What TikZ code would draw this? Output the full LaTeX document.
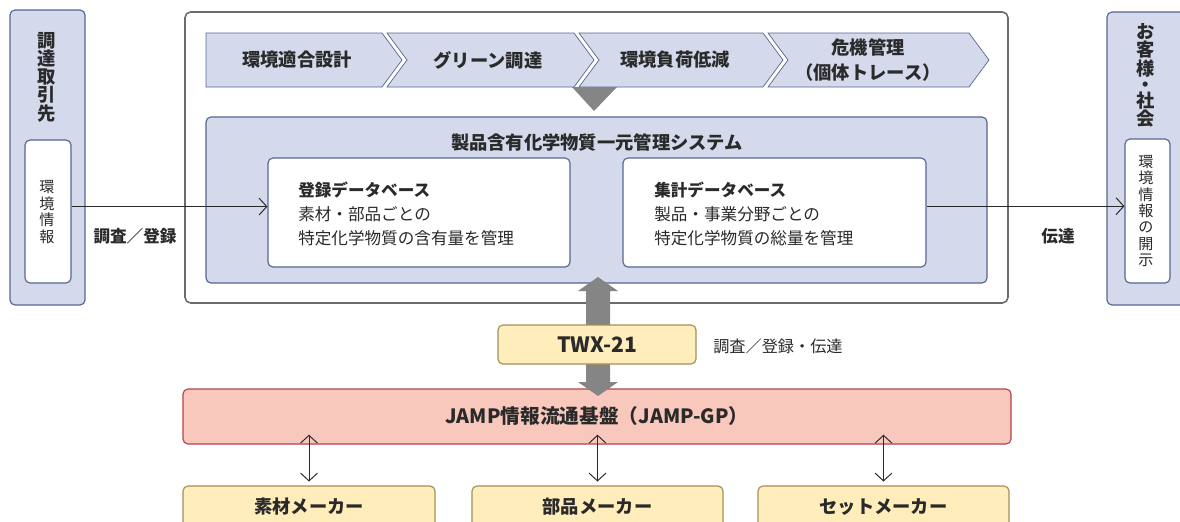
\documentclass[tikz,border=0pt]{standalone}
\usepackage{fontspec}
\setmainfont{Noto Sans CJK JP}
\usetikzlibrary{positioning,arrows.meta}
\definecolor{paleblue}{HTML}{D4DAEC}
\definecolor{edgeblue}{HTML}{56668F}
\definecolor{framegray}{HTML}{6B6B6B}
\definecolor{arrowgray}{HTML}{858585}
\definecolor{paleyellow}{HTML}{FFEDBB}
\definecolor{edgeyellow}{HTML}{A38F55}
\definecolor{palered}{HTML}{F8C8BC}
\definecolor{edgered}{HTML}{B3434F}
\definecolor{inkgray}{HTML}{2A2A2A}
\tikzset{
  boxsize/.style 2 args={minimum width=#1*0.025cm, minimum height=#2*0.025cm, inner sep=0pt},
  bluebox/.style={draw=edgeblue, fill=paleblue, line width=0.8pt, rounded corners=3.5pt},
  whitebox/.style={draw=edgeblue, fill=white, line width=0.8pt, rounded corners=3.5pt},
  framebox/.style={draw=framegray, fill=white, line width=1.1pt, rounded corners=4pt},
  yellowbox/.style={draw=edgeyellow, fill=paleyellow, line width=0.8pt, rounded corners=3.5pt},
  redbox/.style={draw=edgered, fill=palered, line width=0.8pt, rounded corners=3.5pt},
  chevron/.style={draw=edgeblue, fill=paleblue, line width=0.5pt},
  flow/.style={draw=inkgray, line width=0.7pt, -{Straight Barb[length=5.5pt,width=12pt]}},
  twoway/.style={draw=inkgray, line width=0.7pt, {Straight Barb[length=5.5pt,width=12pt]}-{Straight Barb[length=5.5pt,width=12pt]}},
  headtext/.style={font=\fontsize{13}{17.8}\selectfont\bfseries, text=inkgray, align=center},
  bodytext/.style={font=\fontsize{11.8}{17}\selectfont, text=inkgray, align=left, inner sep=0pt},
  vtitle/.style={font=\fontsize{13}{13}\selectfont\bfseries, text=inkgray, align=center, inner sep=0pt},
  vtext/.style={font=\fontsize{10.7}{11.7}\selectfont, text=inkgray, align=center, inner sep=0pt},
  labeltext/.style={font=\fontsize{11.8}{14}\selectfont\bfseries, text=inkgray}
}
\begin{document}
\begin{tikzpicture}[x=0.025cm, y=-0.025cm]
\useasboundingbox (0,0) rectangle (1180,521);

\draw(47.5,157.5) node[bluebox, boxsize={75}{295}] (supplier) {};
\draw(47,77) node[vtitle] (suppliertitle) {調\\達\\取\\引\\先};
\draw(48,211.5) node[whitebox, boxsize={46}{143}] (leftinner) {};
\draw(47,212) node[vtext] (leftinfo) {環\\境\\情\\報};

\draw(1148.5,158.5) node[bluebox, boxsize={83}{293}] (customer) {};
\draw(1146,75.5) node[vtitle] (customertitle) {お\\客\\様\\[-1.5pt]・\\[-1.5pt]社\\会};
\draw(1147.5,211) node[whitebox, boxsize={45}{144}] (rightinner) {};
\draw(1146,211) node[vtext] (rightinfo) {環\\境\\情\\報\\の\\開\\示};

\draw(596.5,157.5) node[framebox, boxsize={823}{291}] (frame) {};
\draw[chevron] (206,33) -- (382,33) -- (402,60) -- (382,87) -- (206,87) -- cycle;
\foreach \l/\r in {387/574, 579/763, 768/969}
  \draw[chevron] (\l,33) -- (\r,33) -- (\r+20,60) -- (\r,87) -- (\l,87) -- (\l+20,60) -- cycle;
\draw(297,60) node[headtext] (step1) {環境適合設計};
\draw(488,60) node[headtext] (step2) {グリーン調達};
\draw(675,60) node[headtext] (step3) {環境負荷低減};
\draw(868,60) node[headtext] (step4) {危機管理\\（個体トレース）};
\fill[arrowgray] (572,87) -- (617,87) -- (594,111) -- cycle;

\draw(596.5,200) node[bluebox, boxsize={781}{166}] (system) {};
\draw(597,142) node[headtext] (systemtitle) {製品含有化学物質一元管理システム};
\draw(419,212.5) node[whitebox, boxsize={302}{109}] (db1) {};
\draw(774.5,212.5) node[whitebox, boxsize={303}{109}] (db2) {};
\draw(298,214) node[bodytext, anchor=west] (db1text) {\textbf{登録データベース}\\素材・部品ごとの\\特定化学物質の含有量を管理};
\draw(654,214) node[bodytext, anchor=west] (db2text) {\textbf{集計データベース}\\製品・事業分野ごとの\\特定化学物質の総量を管理};

\draw[flow] ([yshift=3.5pt]leftinner.east) -- ([yshift=3.5pt]leftinner.east -| db1.west);
\draw[flow] ([yshift=4.5pt]db2.east) -- ([yshift=4.5pt]db2.east -| rightinner.west);
\draw(135,236) node[labeltext] (survey) {調査／登録};
\draw(1058,236) node[labeltext] (notify) {伝達};

\draw(597,416.5) node[redbox, boxsize={828}{55}] (jamp) {};
\fill[arrowgray] (598,277) -- (618,291) -- (610,291) -- (610,382) -- (618,382) -- (598,396)
  -- (578,382) -- (586,382) -- (586,291) -- (578,291) -- cycle;
\draw(597,344.5) node[yellowbox, boxsize={198}{39}, headtext, font=\fontsize{15}{17}\selectfont\bfseries] (twx) {TWX-21};
\draw(713,346) node[anchor=west, inner sep=0pt, font=\fontsize{11.5}{14}\selectfont, text=inkgray] (twxnote) {調査／登録・伝達};
\draw(597,416.5) node[headtext, font=\fontsize{14}{16}\selectfont\bfseries] (jamptext) {JAMP情報流通基盤（JAMP-GP）};

\draw(309,507) node[yellowbox, boxsize={252}{42}, headtext] (maker1) {素材メーカー};
\draw(597.5,507) node[yellowbox, boxsize={251}{42}, headtext] (maker2) {部品メーカー};
\draw(883.5,507) node[yellowbox, boxsize={251}{42}, headtext] (maker3) {セットメーカー};
\foreach \m in {maker1, maker2, maker3}
  \draw[twoway] ([yshift=2.8pt]\m.north) -- ([yshift=7pt]\m.north |- jamp.south);
\end{tikzpicture}
\end{document}
